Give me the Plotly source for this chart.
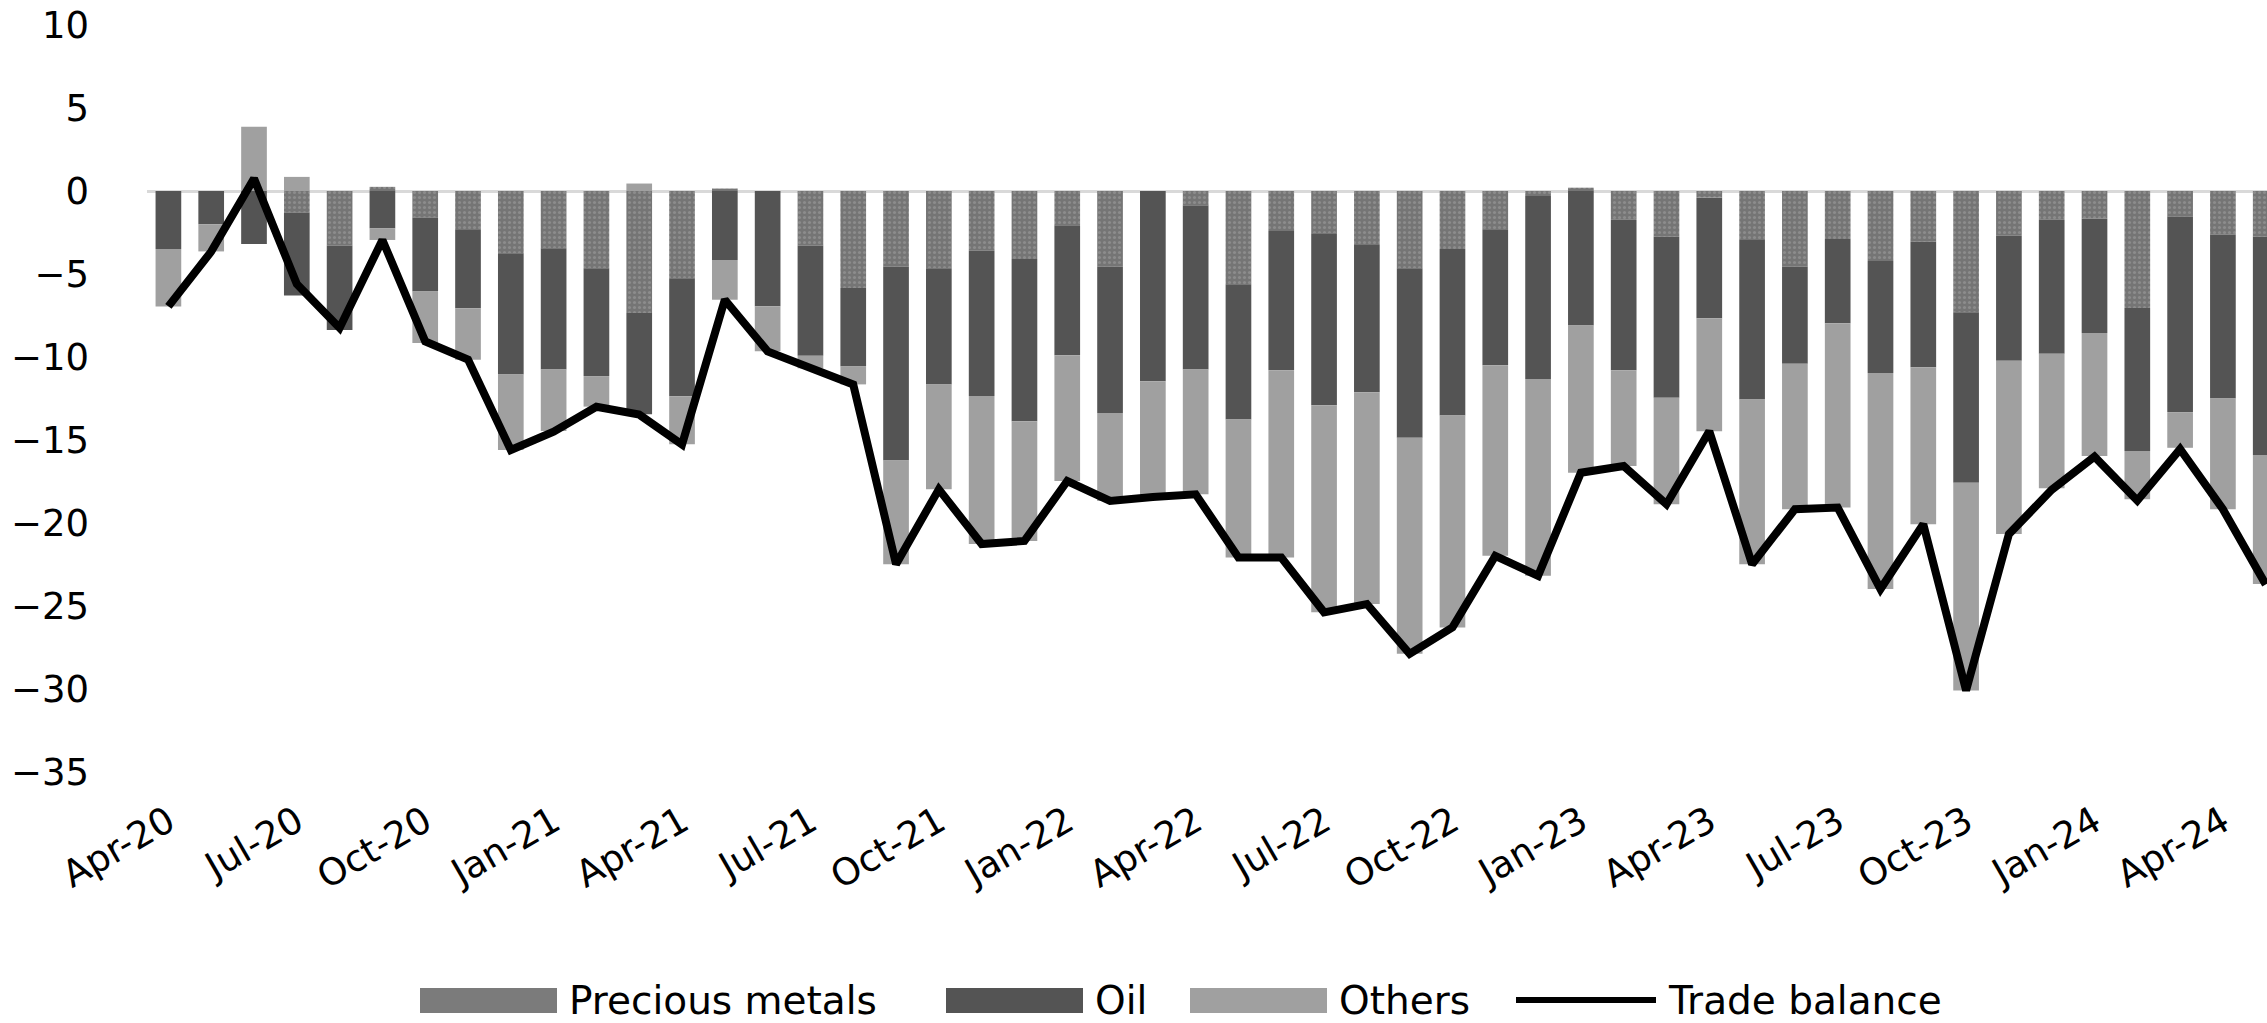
import pandas as pd
import plotly.graph_objects as go

# Monthly categories, Apr-20 .. May-24
months = pd.date_range("2020-04-01", periods=50, freq="MS").strftime("%b-%y").tolist()
tick_labels = months[::3]

# Contributions to the trade balance (stacked bars) and the balance itself (line)
precious_metals = [
    0.0, 0.0, 0.0, -1.3, -3.3, 0.25, -1.6, -2.35, -3.75, -3.45,
    -4.65, -7.35, -5.25, 0.15, 0.0, -3.3, -5.85, -4.55, -4.65, -3.6,
    -4.1, -2.1, -4.55, 0.0, -0.88, -5.61, -2.41, -2.55, -3.25, -4.65,
    -3.49, -2.31, -0.3, 0.2, -1.74, -2.75, -0.4, -2.95, -4.55, -2.89,
    -4.21, -3.05, -7.31, -2.69, -1.74, -1.65, -7.05, -1.54, -2.64, -2.75,
]
oil = [
    -3.49, -2.0, -3.2, -5.0, -5.07, -2.24, -4.45, -4.71, -7.31, -7.31,
    -6.5, -6.1, -7.11, -4.15, -6.95, -6.63, -4.7, -11.68, -7.0, -8.75,
    -9.77, -7.8, -8.82, -11.46, -9.88, -8.15, -8.39, -10.35, -8.87, -10.22,
    -10.03, -8.19, -11.02, -8.1, -9.06, -9.71, -7.26, -9.61, -5.85, -5.07,
    -6.75, -7.57, -10.26, -7.53, -8.06, -6.91, -8.62, -11.78, -9.86, -13.16,
]
others = [
    -3.47, -1.64, 3.87, 0.85, 0.0, -0.71, -3.1, -3.1, -4.54, -3.7,
    -1.84, 0.45, -2.9, -2.4, -2.7, -0.75, -1.1, -6.25, -6.31, -8.91,
    -7.21, -7.57, -5.3, -6.97, -7.51, -8.32, -11.28, -12.48, -12.76, -13.01,
    -12.77, -11.48, -11.86, -8.87, -5.77, -6.41, -6.81, -9.92, -8.77, -11.11,
    -13.02, -9.45, -12.52, -10.45, -8.1, -7.41, -2.9, -2.15, -6.67, -7.77,
]
trade_balance = [
    -6.95, -3.65, 0.75, -5.6, -8.25, -2.95, -9.06, -10.16, -15.6, -14.5,
    -13.0, -13.47, -15.27, -6.55, -9.66, -10.66, -11.66, -22.48, -17.97, -21.27,
    -21.08, -17.47, -18.67, -18.43, -18.27, -22.08, -22.08, -25.38, -24.88, -27.88,
    -26.29, -21.98, -23.18, -16.97, -16.57, -18.87, -14.47, -22.48, -19.17, -19.07,
    -23.98, -20.07, -30.09, -20.67, -18.0, -16.0, -18.65, -15.55, -19.17, -23.7,
]

FONT = "DejaVu Sans"
C_PRECIOUS = "#7b7b7b"
C_OIL = "#545454"
C_OTHERS = "#a0a0a0"

fig = go.Figure()
fig.add_trace(go.Bar(
    x=months, y=precious_metals, name="Precious metals", showlegend=False,
    marker=dict(color=C_PRECIOUS, line=dict(width=0),
                pattern=dict(shape=".", bgcolor="#757575", fgcolor="#8c8c8c",
                             size=5, solidity=0.3)),
))
fig.add_trace(go.Bar(
    x=months, y=oil, name="Oil", showlegend=False,
    marker=dict(color=C_OIL, line=dict(width=0)),
))
fig.add_trace(go.Bar(
    x=months, y=others, name="Others", showlegend=False,
    marker=dict(color=C_OTHERS, line=dict(width=0)),
))
fig.add_trace(go.Scatter(
    x=months, y=trade_balance, name="Trade balance", mode="lines", showlegend=False,
    line=dict(color="black", width=8),
))

# Plot area geometry in pixels (used for the hand-drawn legend below the axis)
W, H = 2267, 1023
L, R, T, B = 147, 0, 25, 251
plot_w = W - L - R
plot_h = H - T - B


def px_x(px):
    return (px - L) / plot_w


def px_y(py):
    return (H - B - py) / plot_h


# (kind, colour, label, swatch left, text left) in pixels
legend_items = [
    ("rect", C_PRECIOUS, "Precious metals", 420, 567),
    ("rect", C_OIL, "Oil", 946, 1093),
    ("rect", C_OTHERS, "Others", 1190, 1337),
    ("line", "black", "Trade balance", 1516, 1666),
]
sw_w = 137
y_top, y_bot, y_mid = 988, 1013, 1000
shapes = []
annotations = []
for kind, color, label, x0, tx in legend_items:
    if kind == "rect":
        shapes.append(dict(type="rect", xref="paper", yref="paper",
                           x0=px_x(x0), x1=px_x(x0 + sw_w),
                           y0=px_y(y_bot), y1=px_y(y_top),
                           fillcolor=color, line=dict(width=0)))
    else:
        shapes.append(dict(type="line", xref="paper", yref="paper",
                           x0=px_x(x0), x1=px_x(x0 + 140),
                           y0=px_y(y_mid), y1=px_y(y_mid),
                           line=dict(color=color, width=6)))
    annotations.append(dict(text=label, xref="paper", yref="paper",
                            x=px_x(tx), y=px_y(y_mid), xanchor="left", yanchor="middle",
                            showarrow=False, font=dict(family=FONT, size=39, color="black")))

fig.update_layout(
    template="none",
    width=W, height=H,
    margin=dict(l=L, r=R, t=T, b=B),
    paper_bgcolor="white", plot_bgcolor="white",
    barmode="relative", bargap=0.4,
    showlegend=False,
    shapes=shapes,
    annotations=annotations,
    xaxis=dict(
        type="category", range=[-0.5, 49.03],
        tickmode="array", tickvals=tick_labels, ticktext=tick_labels,
        tickangle=-30, tickfont=dict(family=FONT, size=37, color="black"),
        showgrid=False, showline=False, zeroline=False, ticks="",
        ticklabelstandoff=20, automargin=False,
    ),
    yaxis=dict(
        range=[-35, 10], tickmode="array", tickvals=list(range(-35, 11, 5)),
        tickfont=dict(family=FONT, size=37, color="black"),
        showgrid=False, showline=False, ticks="",
        zeroline=True, zerolinecolor="#d9d9d9", zerolinewidth=3,
        ticklabelstandoff=57, automargin=False,
    ),
)

fig.write_html("out.html")
